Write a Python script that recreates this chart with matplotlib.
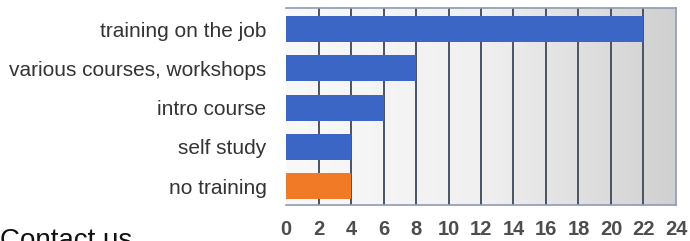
import numpy as np
import matplotlib
matplotlib.use("Agg")
import matplotlib.pyplot as plt

categories = ["training on the job", "various courses, workshops",
              "intro course", "self study", "no training"]
values = [22, 8, 6, 4, 4]
colors = ["#3b66c5", "#3b66c5", "#3b66c5", "#3b66c5", "#f07a26"]
xticks = list(range(0, 25, 2))

plt.rcParams['font.family'] = ['Liberation Sans', 'DejaVu Sans']

fig = plt.figure(figsize=(6.9, 2.41), dpi=100)
ax = fig.add_axes([0.4145, 0.1494, 0.5652, 0.8174])

# background gradient, white on the left to gray on the right
grad = np.linspace(0, 1, 256).reshape(1, -1)
ax.imshow(grad, extent=[0, 24, 4.48, -0.535], aspect='auto',
          cmap=matplotlib.colors.LinearSegmentedColormap.from_list(
              "bg", ["#f9f9f9", "#f0f0f0", "#d0d0d0"]),
          zorder=0)

for x in xticks[1:-1]:
    ax.axvline(x, color="#4a5364", lw=1.4, zorder=1)

ypos = np.arange(len(categories))
ax.barh(ypos, values, height=0.66, color=colors, zorder=2)

ax.set_xlim(0, 24)
ax.set_ylim(4.48, -0.535)
ax.set_xticks(xticks)
ax.set_xticklabels([str(t) for t in xticks], color="#4d4d4d",
                   fontsize=14.5, fontweight='bold')
ax.set_yticks(ypos)
ax.set_yticklabels(categories, color="#333333", fontsize=15)
ax.tick_params(axis='x', length=0, pad=11)
ax.tick_params(axis='y', length=0, pad=14)

for side in ['top', 'bottom', 'right']:
    ax.spines[side].set_color("#8e9ab5")
    ax.spines[side].set_linewidth(1.2)
ax.spines['left'].set_visible(False)

fig.text(0.0, -0.03, "Contact us", fontsize=20, color="#111111",
         ha='left', va='baseline')

fig.savefig("out.png", dpi=100)
